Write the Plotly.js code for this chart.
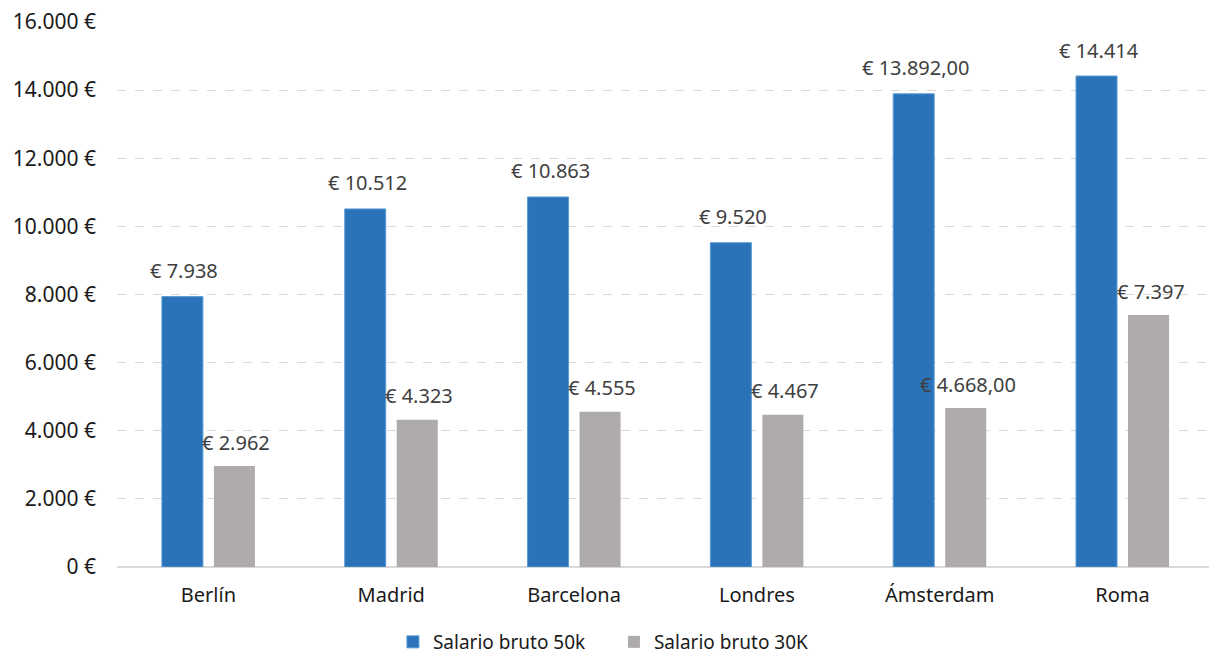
<!DOCTYPE html>
<html>
<head>
<meta charset="utf-8">
<script src="https://cdn.plot.ly/plotly-3.0.1.min.js"></script>
<style>html,body{margin:0;padding:0;background:#fff;}#chart{width:1209px;height:661px;}</style>
</head>
<body>
<div id="chart"></div>
<script>
var categories = ["Berlín", "Madrid", "Barcelona", "Londres", "Ámsterdam", "Roma"];
var salario50k = [7938, 10512, 10863, 9520, 13892, 14414];
var salario30k = [2962, 4323, 4555, 4467, 4668, 7397];
var labels50k = ["€ 7.938", "€ 10.512", "€ 10.863", "€ 9.520", "€ 13.892,00", "€ 14.414"];
var labels30k = ["€ 2.962", "€ 4.323", "€ 4.555", "€ 4.467", "€ 4.668,00", "€ 7.397"];
var tickValues = [0, 2000, 4000, 6000, 8000, 10000, 12000, 14000, 16000];
var tickLabels = ["0 €", "2.000 €", "4.000 €", "6.000 €", "8.000 €", "10.000 €", "12.000 €", "14.000 €", "16.000 €"];
var seriesNames = ["Salario bruto 50k", "Salario bruto 30K"];

var FONT = "Noto Sans, Liberation Sans, sans-serif";
var blue = "#2A73B8", gray = "#AFABAB";

var traces = [
  {type: "bar", name: seriesNames[0], x: categories, y: salario50k,
   marker: {color: blue, line: {color: "#5B9BD5", width: 1}}, hoverinfo: "skip"},
  {type: "bar", name: seriesNames[1], x: categories, y: salario30k,
   marker: {color: gray}, hoverinfo: "skip"}
];

var annotations = [];
categories.forEach(function (c, i) {
  annotations.push({x: c, y: salario50k[i], xref: "x", yref: "y", text: labels50k[i],
    showarrow: false, xshift: -24, yshift: 26, yanchor: "middle",
    font: {family: FONT, size: 20, color: "#404040"}});
  annotations.push({x: c, y: salario30k[i], xref: "x", yref: "y", text: labels30k[i],
    showarrow: false, xshift: 28, yshift: 24, yanchor: "middle",
    font: {family: FONT, size: 20, color: "#404040"}});
});

var layout = {
  width: 1209, height: 661,
  margin: {l: 117, r: 0, t: 22, b: 94},
  paper_bgcolor: "#fff", plot_bgcolor: "#fff",
  barmode: "group", bargap: 0.431, bargroupgap: 0.2115,
  font: {family: FONT, size: 19, color: "#1a1a1a"},
  xaxis: {range: [-0.5, 5.473], showgrid: false, showline: false, ticks: "",
    ticklabelstandoff: 14,
    tickfont: {family: FONT, size: 20, color: "#1a1a1a"}, zeroline: false},
  yaxis: {range: [0, 16000], tickvals: tickValues, ticktext: tickLabels,
    showgrid: true, gridcolor: "#D9D9D9", griddash: "dash", gridwidth: 1,
    zeroline: true, zerolinecolor: "#D9D9D9", zerolinewidth: 2,
    ticks: "", ticklabelstandoff: 20, showline: false,
    tickfont: {family: FONT, size: 21, color: "#1a1a1a"}},
  showlegend: true,
  legend: {orientation: "h", xref: "container", x: 0.5078, xanchor: "center",
    yref: "container", y: -0.009, yanchor: "bottom", entrywidth: 176,
    font: {family: FONT, size: 19, color: "#1a1a1a"}, traceorder: "normal"},
  annotations: annotations
};

Plotly.newPlot("chart", traces, layout, {displayModeBar: false, staticPlot: true});
</script>
</body>
</html>
